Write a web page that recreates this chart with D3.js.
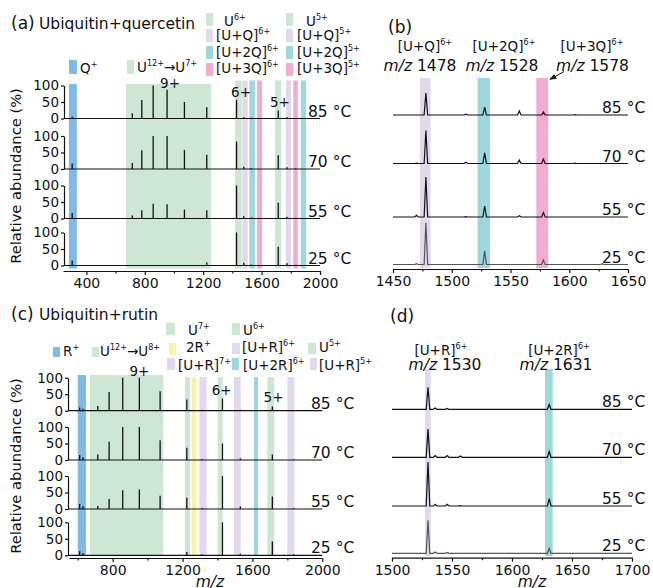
<!DOCTYPE html>
<html>
<head>
<meta charset="utf-8">
<script src="https://cdn.jsdelivr.net/npm/d3@7"></script>
<style>
  body { margin: 0; background: #fff; }
  svg { display: block; font-family: "DejaVu Sans", "Liberation Sans", Arial, sans-serif; }
</style>
</head>
<body>
<svg id="fig" width="653" height="588"></svg>
<script>
// ---- data ----
const temps = ['85 °C', '70 °C', '55 °C', '25 °C'];

// (a) ubiquitin + quercetin, stick spectra (m/z, relative abundance %)
const quercetinMz = [303, 714.8, 779.6, 857.5, 952.7, 1071.6, 1224.6, 1428.5, 1478, 1528, 1714, 1774, 1834];
const quercetin85 = [5, 16, 56, 100, 87, 50, 34, 57, 4, 2, 24, 4, 1];
const quercetin70 = [17, 18, 57, 100, 100, 58, 43, 83, 7, 3, 42, 5, 2];
const quercetin55 = [17, 9, 25, 45, 43, 27, 25, 100, 7, 3, 48, 5, 2];
const quercetin25 = [15, 0, 0, 0, 0, 0, 10, 100, 8, 3, 57, 7, 2];
const quercetinBandLo = [280, 671, 1418, 1468, 1516, 1569, 1692, 1767, 1817, 1868];
const quercetinBandHi = [335, 1254, 1464, 1505, 1555, 1603, 1733, 1802, 1848, 1904];
const quercetinBandKind = ['ligand', 'protein', 'protein', 'plus1', 'plus2', 'plus3', 'protein', 'plus1', 'plus3', 'plus2'];
const quercetinCharge = ['9+', '6+', '5+'];
const quercetinChargeMz = [973, 1459, 1726];
const quercetinLegend = ['Q{+}', 'U{12+}→U{7+}', 'U{6+}', '[U+Q]{6+}', '[U+2Q]{6+}', '[U+3Q]{6+}',
  'U{5+}', '[U+Q]{5+}', '[U+2Q]{5+}', '[U+3Q]{5+}'];
const quercetinLegendKind = ['ligand', 'protein', 'protein', 'plus1', 'plus2', 'plus3', 'protein', 'plus1', 'plus2', 'plus3'];

// (b) zoomed profile spectra, quercetin adducts
const zoomQMz = [1470, 1478, 1512, 1528, 1557.5, 1578, 1605, 1628];
const zoomQ85 = [0, 50, 2, 18, 9, 7, 1, 0];
const zoomQ70 = [1, 75, 3, 24, 8, 10, 1, 0];
const zoomQ55 = [4, 91, 1, 25, 3, 10, 0, 0];
const zoomQ25 = [2, 95, 0, 31, 0, 10, 0, 2];
const zoomQBandLo = [1473, 1522, 1572];
const zoomQBandHi = [1482, 1532.5, 1582];
const zoomQBandKind = ['plus1', 'plus2', 'plus3'];
const zoomQIon = ['[U+Q]{6+}', '[U+2Q]{6+}', '[U+3Q]{6+}'];
const zoomQIonMz = ['1478', '1528', '1578'];

// (c) ubiquitin + rutin, stick spectra
const rutinMz = [611, 630, 714.8, 779.6, 857.5, 952.7, 1071.6, 1224.6, 1311.7, 1428.5, 1531, 1714, 1837];
const rutin85 = [10, 6, 14, 57, 100, 100, 59, 34, 3, 37, 3, 13, 2];
const rutin70 = [15, 8, 17, 55, 100, 100, 60, 37, 3, 50, 5, 17, 2];
const rutin55 = [15, 8, 9, 30, 57, 59, 40, 34, 3, 100, 8, 38, 3];
const rutin25 = [12, 6, 0, 0, 0, 0, 0, 10, 3, 100, 5, 42, 3];
const rutinBandLo = [600, 670, 1214, 1254, 1296, 1401, 1494, 1609, 1685, 1800];
const rutinBandHi = [647, 1090, 1243, 1279, 1338, 1430, 1533, 1632, 1725, 1840];
const rutinBandKind = ['ligand', 'protein', 'protein', 'dimer', 'plus1', 'protein', 'plus1', 'plus2', 'protein', 'plus1'];
const rutinCharge = ['9+', '6+', '5+'];
const rutinChargeMz = [953, 1424, 1721];
const rutinLegend = ['R{+}', 'U{12+}→U{8+}', 'U{7+}', 'U{6+}', '2R{+}', '[U+R]{6+}', 'U{5+}',
  '[U+R]{7+}', '[U+2R]{6+}', '[U+R]{5+}'];
const rutinLegendKind = ['ligand', 'protein', 'protein', 'protein', 'dimer', 'plus1', 'protein', 'plus1', 'plus2', 'plus1'];

// (d) zoomed profile spectra, rutin adducts
const zoomRMz = [1530, 1536, 1546, 1557, 1631];
const zoomR85 = [50, 3, 2, 0, 11];
const zoomR70 = [64, 4, 4, 3, 13];
const zoomR55 = [100, 4, 4, 1, 17];
const zoomR25 = [75, 3, 2, 0, 11];
const zoomRBandLo = [1527.5, 1627.5];
const zoomRBandHi = [1532.3, 1633.9];
const zoomRBandKind = ['plus1', 'plus2'];
const zoomRIon = ['[U+R]{6+}', '[U+2R]{6+}'];
const zoomRIonMz = ['1530', '1631'];

// ---- drawing ----
const bandColor = {
  ligand: '#80bae6', protein: '#cde7d4', plus1: '#e2daec',
  plus2: '#9fd8dc', plus3: '#f3abd0', dimer: '#faf2a8'
};
const ink = '#111';
const svg = d3.select('#fig');

svg.append('defs').append('marker')
  .attr('id', 'head').attr('viewBox', '0 0 10 10').attr('refX', 9).attr('refY', 5)
  .attr('markerWidth', 7).attr('markerHeight', 7).attr('orient', 'auto')
  .append('path').attr('d', 'M0,1 L10,5 L0,9 Z').attr('fill', ink);

// "{...}" marks a superscript
const rich = (text, str, size) => {
  let up = false;
  str.split(/(\{[^}]*\})/).filter(s => s.length).forEach(s => {
    if (s[0] === '{') {
      text.append('tspan').attr('font-size', size * 0.6).attr('dy', -size * 0.42).text(s.slice(1, -1));
      up = true;
    } else {
      text.append('tspan').attr('font-size', size).attr('dy', up ? size * 0.42 : 0).text(s);
      up = false;
    }
  });
  return text;
};

const styleAxis = (g, size) => {
  g.attr('font-family', null).attr('font-size', size);
  g.selectAll('path, line').attr('stroke', ink).attr('stroke-width', 1.2);
  g.selectAll('text').attr('fill', ink);
};

const bottomAxis = (g, x, p) => {
  const a = g.append('g').attr('transform', `translate(0,${p.axisY})`)
    .call(d3.axisBottom(x).tickValues(p.ticks).tickFormat(d3.format('d'))
      .tickSize(4).tickSizeOuter(0).tickPadding(3));
  styleAxis(a, 14);
  const m = g.append('g').attr('transform', `translate(0,${p.axisY})`)
    .call(d3.axisBottom(x).tickValues(p.minor).tickSize(2.5).tickFormat(''));
  m.select('.domain').remove();
  styleAxis(m, 14);
};

const drawBands = (g, x, lo, hi, kind, top, wideTop, bottom, wideCount) => {
  g.append('g').selectAll('rect').data(lo).join('rect')
    .attr('x', d => x(d))
    .attr('width', (d, i) => x(hi[i]) - x(d))
    .attr('y', (d, i) => i < wideCount ? wideTop : top)
    .attr('height', (d, i) => bottom - (i < wideCount ? wideTop : top))
    .attr('fill', (d, i) => bandColor[kind[i]]);
};

const drawLegend = (g, labels, kinds, spots) => {
  labels.forEach((lab, i) => {
    const [sx, sy, sw, sh, tx, ty] = spots[i];
    g.append('rect').attr('x', sx).attr('y', sy).attr('width', sw).attr('height', sh)
      .attr('fill', bandColor[kinds[i]]);
    rich(g.append('text').attr('x', tx).attr('y', ty).attr('fill', ink), lab, 13.5);
  });
};

const stickPanel = p => {
  const g = svg.append('g');
  const x = d3.scaleLinear().domain(p.domain).range(p.range);
  drawBands(g, x, p.bandLo, p.bandHi, p.bandKind, p.bandTop, p.wideTop, p.bandBottom, 2);
  p.rows.forEach((base, r) => {
    const y = d3.scaleLinear().domain([0, 100]).range([base, base - p.rowH]);
    const vals = p.series[r];
    g.append('line').attr('x1', p.spineX).attr('x2', p.range[1]).attr('y1', base).attr('y2', base)
      .attr('stroke', ink).attr('stroke-width', 1.2);
    g.append('g').selectAll('line').data(p.mz.filter((d, i) => vals[i] > 0)).join('line')
      .attr('x1', d => x(d)).attr('x2', d => x(d))
      .attr('y1', base).attr('y2', d => y(vals[p.mz.indexOf(d)]))
      .attr('stroke', ink).attr('stroke-width', 1.3);
    const ya = g.append('g').attr('transform', `translate(${p.spineX},0)`)
      .call(d3.axisLeft(y).tickValues([0, 50, 100]).tickSize(3).tickSizeOuter(0).tickPadding(2));
    styleAxis(ya, 13.5);
    g.append('text').attr('x', p.tempX).attr('y', base - 2).attr('font-size', 15.5).attr('fill', ink).text(temps[r]);
  });
  p.charge.forEach((c, i) => {
    g.append('text').attr('x', x(p.chargeMz[i])).attr('y', p.chargeY[i]).attr('text-anchor', 'middle')
      .attr('font-size', 13.5).attr('fill', ink).text(c);
  });
  bottomAxis(g, x, p);
  g.append('text').attr('transform', `translate(21,${p.titleY}) rotate(-90)`).attr('text-anchor', 'middle')
    .attr('font-size', 14.7).attr('fill', ink).text('Relative abundance (%)');
  drawLegend(g, p.legend, p.legendKind, p.legendSpots);
  g.append('text').attr('x', 11).attr('y', p.headY).attr('font-size', 17).attr('fill', ink).text(p.tag);
  g.append('text').attr('x', 39).attr('y', p.headY).attr('font-size', 15.5).attr('fill', ink).text(p.head);
  if (p.axisTitle) {
    g.append('text').attr('x', p.axisTitle[0]).attr('y', p.axisTitle[1]).attr('text-anchor', 'middle')
      .attr('font-size', 15.5).attr('font-style', 'italic').attr('fill', ink).text('m/z');
  }
};

const profilePanel = p => {
  const g = svg.append('g');
  const x = d3.scaleLinear().domain(p.domain).range(p.range);
  drawBands(g, x, p.bandLo, p.bandHi, p.bandKind, p.bandTop, p.bandTop, p.bandBottom, 0);
  p.rows.forEach((base, r) => {
    const y = d3.scaleLinear().domain([0, 100]).range([base, base - 44]);
    const vals = p.series[r];
    const pts = [[p.domain[0], 0]];
    p.mz.forEach((m, i) => { if (vals[i] > 0) pts.push([m - 1.5, 0], [m, vals[i]], [m + 1.5, 0]); });
    pts.push([p.domain[1], 0]);
    g.append('path').datum(pts)
      .attr('d', d3.line().x(d => x(d[0])).y(d => y(d[1])))
      .attr('fill', 'none').attr('stroke', r === 3 ? '#555' : ink).attr('stroke-width', 1.2);
    g.append('text').attr('x', p.tempX).attr('y', base - 2).attr('font-size', 15.5).attr('fill', ink).text(temps[r]);
  });
  bottomAxis(g, x, p);
  g.append('text').attr('x', p.tagX).attr('y', p.tagY).attr('font-size', 17).attr('fill', ink).text(p.tag);
  p.ion.forEach((ion, i) => {
    rich(g.append('text').attr('x', p.ionX[i]).attr('y', p.ionY).attr('text-anchor', 'middle').attr('fill', ink), ion, 13.5);
    const t = g.append('text').attr('x', p.mzX[i]).attr('y', p.mzY).attr('text-anchor', 'middle')
      .attr('font-size', 15.5).attr('fill', ink);
    t.append('tspan').attr('font-style', 'italic').text('m/z');
    t.append('tspan').text(' ' + p.ionMz[i]);
  });
  if (p.arrow) {
    g.append('line').attr('x1', p.arrow[0]).attr('y1', p.arrow[1]).attr('x2', p.arrow[2]).attr('y2', p.arrow[3])
      .attr('stroke', ink).attr('stroke-width', 1).attr('marker-end', 'url(#head)');
  }
  if (p.axisTitle) {
    g.append('text').attr('x', p.axisTitle[0]).attr('y', p.axisTitle[1]).attr('text-anchor', 'middle')
      .attr('font-size', 15.5).attr('font-style', 'italic').attr('fill', ink).text('m/z');
  }
};

stickPanel({
  domain: [240, 2000], range: [63, 320], spineX: 64,
  rows: [118.5, 169, 218.5, 265.5], rowH: 33, axisY: 271,
  wideTop: 84, bandTop: 80.5, bandBottom: 268.5,
  ticks: [400, 800, 1200, 1600, 2000], minor: [600, 1000, 1400, 1800],
  tempX: 308, titleY: 176, headY: 29, tag: '(a)', head: 'Ubiquitin+quercetin',
  mz: quercetinMz, series: [quercetin85, quercetin70, quercetin55, quercetin25],
  bandLo: quercetinBandLo, bandHi: quercetinBandHi, bandKind: quercetinBandKind,
  charge: quercetinCharge, chargeMz: quercetinChargeMz, chargeY: [88, 97, 107],
  legend: quercetinLegend, legendKind: quercetinLegendKind,
  legendSpots: [[69, 60, 8, 14, 80, 73], [127, 60, 7, 14, 137, 72],
    [206, 13, 7, 13, 224, 25.5], [206, 29, 7, 13, 216, 40], [206, 46, 7, 13, 216, 56.5], [206, 63, 7, 13, 216, 73],
    [286, 13, 7, 13, 306, 25.5], [286, 29, 7, 13, 297, 40], [286, 46, 7, 13, 297, 56.5], [286, 63, 7, 13, 297, 73]]
});

profilePanel({
  domain: [1450, 1650], range: [393, 628],
  rows: [115, 163.5, 217, 264.5], axisY: 269, bandTop: 78, bandBottom: 268,
  ticks: [1450, 1500, 1550, 1600, 1650], minor: [1475, 1525, 1575, 1625],
  tempX: 602, tag: '(b)', tagX: 388, tagY: 33,
  mz: zoomQMz, series: [zoomQ85, zoomQ70, zoomQ55, zoomQ25],
  bandLo: zoomQBandLo, bandHi: zoomQBandHi, bandKind: zoomQBandKind,
  ion: zoomQIon, ionMz: zoomQIonMz, ionX: [425, 504, 592], ionY: 51, mzX: [420, 502, 592.5], mzY: 71,
  arrow: [564, 71.5, 550, 79.5]
});

stickPanel({
  domain: [550, 2000], range: [69, 322.3], spineX: 68,
  rows: [410.7, 460, 509, 555.3], rowH: 33, axisY: 558,
  wideTop: 375, bandTop: 377, bandBottom: 556,
  ticks: [800, 1200, 1600, 2000], minor: [600, 1000, 1400, 1800],
  tempX: 311, titleY: 466, headY: 320, tag: '(c)', head: 'Ubiquitin+rutin',
  mz: rutinMz, series: [rutin85, rutin70, rutin55, rutin25],
  bandLo: rutinBandLo, bandHi: rutinBandHi, bandKind: rutinBandKind,
  charge: rutinCharge, chargeMz: rutinChargeMz, chargeY: [376, 395, 402],
  legend: rutinLegend, legendKind: rutinLegendKind,
  legendSpots: [[53, 347, 7, 10, 63, 356], [92, 347, 7, 10, 100, 356],
    [166, 323, 9, 12, 188, 335], [232, 323, 8, 12, 243, 335],
    [169, 343, 7, 12, 186, 352], [232, 343, 8, 11, 242, 352], [308, 343, 8, 11, 319, 352],
    [167, 358, 8, 12, 178, 370], [232, 358, 7, 12, 243, 370], [310, 358, 7, 12, 319, 370]],
  axisTitle: [210, 587]
});

profilePanel({
  domain: [1500, 1700], range: [392, 632],
  rows: [409.3, 457.3, 506, 553.3], axisY: 557.7, bandTop: 369, bandBottom: 556,
  ticks: [1500, 1550, 1600, 1650, 1700], minor: [1525, 1575, 1625, 1675],
  tempX: 602, tag: '(d)', tagX: 390, tagY: 322,
  mz: zoomRMz, series: [zoomR85, zoomR70, zoomR55, zoomR25],
  bandLo: zoomRBandLo, bandHi: zoomRBandHi, bandKind: zoomRBandKind,
  ion: zoomRIon, ionMz: zoomRIonMz, ionX: [441, 559], ionY: 355, mzX: [445, 556], mzY: 370,
  axisTitle: [532, 587]
});
</script>
</body>
</html>
